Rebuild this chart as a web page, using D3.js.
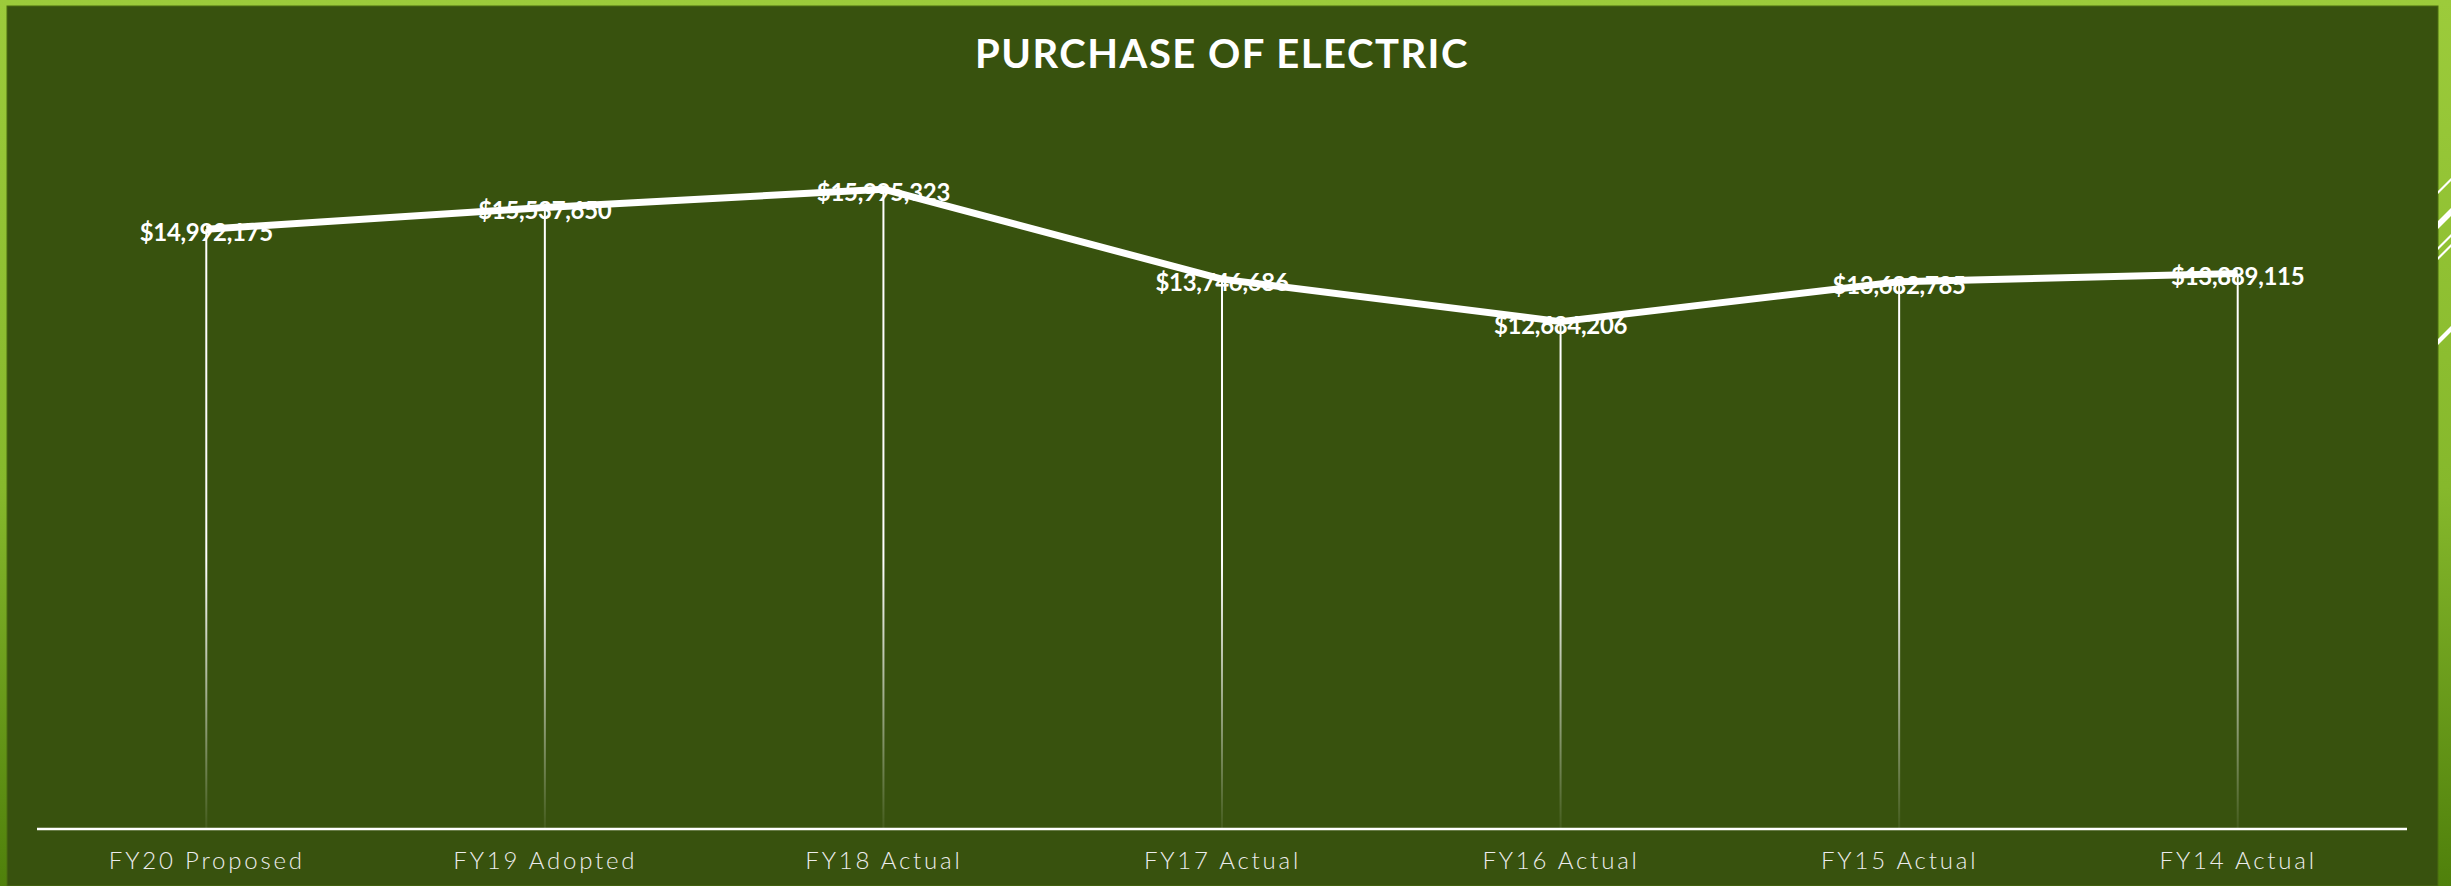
<!DOCTYPE html>
<html>
<head>
<meta charset="utf-8">
<script src="https://cdn.jsdelivr.net/npm/d3@7"></script>
<style>
  html, body { margin: 0; padding: 0; background: #8aba2e; }
  svg { display: block; }
  .title { font-family: Lato, "Open Sans", sans-serif; font-weight: 700; font-size: 40px; letter-spacing: 1.5px; fill: #fff; }
  .value { font-family: Lato, sans-serif; font-weight: 700; font-size: 24px; letter-spacing: -0.3px; fill: #fff; }
  .cat { font-family: Lato, "Open Sans", sans-serif; font-weight: 300; font-size: 24px; letter-spacing: 2.8px; fill: #ececec; }
</style>
</head>
<body>
<svg></svg>
<script>
const categories = ["FY20 Proposed","FY19 Adopted","FY18 Actual","FY17 Actual","FY16 Actual","FY15 Actual","FY14 Actual"]
const values = [14992175, 15537650, 15995323, 13746686, 12684206, 13682785, 13889115]
const title = "PURCHASE OF ELECTRIC"

const W = 2451, H = 886

const svg = d3.select("svg")
    .attr("width", W)
    .attr("height", H)

const defs = svg.append("defs")

// frame gradient (lime at top, darker at bottom)
const frameGrad = defs.append("linearGradient")
    .attr("id","frame")
    .attr("x1",0).attr("y1",0).attr("x2",0).attr("y2",1)
frameGrad.append("stop").attr("offset","0%").attr("stop-color","#9ccb3b")
frameGrad.append("stop").attr("offset","55%").attr("stop-color","#86b82c")
frameGrad.append("stop").attr("offset","100%").attr("stop-color","#4f800b")

// drop lines fade out toward the axis
const dropGrad = defs.append("linearGradient")
    .attr("id","drop")
    .attr("gradientUnits","userSpaceOnUse")
    .attr("x1",0).attr("y1",560).attr("x2",0).attr("y2",829)
dropGrad.append("stop").attr("offset","0%").attr("stop-color","#fff").attr("stop-opacity",1)
dropGrad.append("stop").attr("offset","100%").attr("stop-color","#fff").attr("stop-opacity",0.06)

defs.append("clipPath").attr("id","strip")
    .append("rect").attr("x",2438).attr("y",0).attr("width",13).attr("height",H)

svg.append("rect")
    .attr("width",W).attr("height",H)
    .attr("fill","url(#frame)")

svg.append("rect")
    .attr("x",7).attr("y",6)
    .attr("width",2431).attr("height",H-6)
    .attr("fill","#38520e")
    .attr("stroke","#4a6c10")
    .attr("stroke-width",1)

// decorative stripes on right edge
const stripes = [[177,3],[207,8],[233,3],[243,3],[325,6]]
svg.append("g")
    .attr("clip-path","url(#strip)")
    .selectAll("path")
    .data(stripes)
    .enter()
    .append("path")
    .attr("d",d => `M2438,${d[0]+14} L2452,${d[0]} L2452,${d[0]+d[1]} L2438,${d[0]+14+d[1]} Z`)
    .attr("fill","#fff")

svg.append("text")
    .attr("class","title")
    .attr("x",1222)
    .attr("y",68)
    .attr("text-anchor","middle")
    .text(title)

const x = d3.scalePoint()
    .domain(categories)
    .range([37, 2407])
    .padding(0.5)

const y = d3.scaleLinear()
    .domain([0, 20000000])
    .range([829, 29])

const fmt = v => "$" + d3.format(",")(v)

const data = categories.map((c,i) => ({cat: c, val: values[i]}))

svg.append("g")
    .selectAll("line.drop")
    .data(data)
    .enter()
    .append("line")
    .attr("class","drop")
    .attr("x1",d => x(d.cat))
    .attr("x2",d => x(d.cat) + 0.01)
    .attr("y1",d => y(d.val))
    .attr("y2",y(0))
    .attr("stroke","url(#drop)")
    .attr("stroke-width",2)

const xAxis = svg.append("g")
    .attr("transform",`translate(0,${y(0)})`)
    .call(d3.axisBottom(x).tickSize(0).tickPadding(40))

xAxis.select(".domain")
    .attr("d","M37,0H2407")
    .attr("stroke","#fff")
    .attr("stroke-width",2.5)

xAxis.selectAll("text")
    .attr("class","cat")
    .attr("dy",0)
    .attr("font-family",null)
    .attr("font-size",null)
    .attr("fill",null)

const lineGen = d3.line()
    .x(d => x(d.cat))
    .y(d => y(d.val))

svg.append("path")
    .datum(data)
    .attr("d",lineGen)
    .attr("fill","none")
    .attr("stroke","#fff")
    .attr("stroke-width",7)
    .attr("stroke-linejoin","round")

svg.append("g")
    .selectAll("text.value")
    .data(data)
    .enter()
    .append("text")
    .attr("class","value")
    .attr("x",d => x(d.cat))
    .attr("y",d => y(d.val) + 12)
    .attr("text-anchor","middle")
    .text(d => fmt(d.val))
</script>
</body>
</html>
